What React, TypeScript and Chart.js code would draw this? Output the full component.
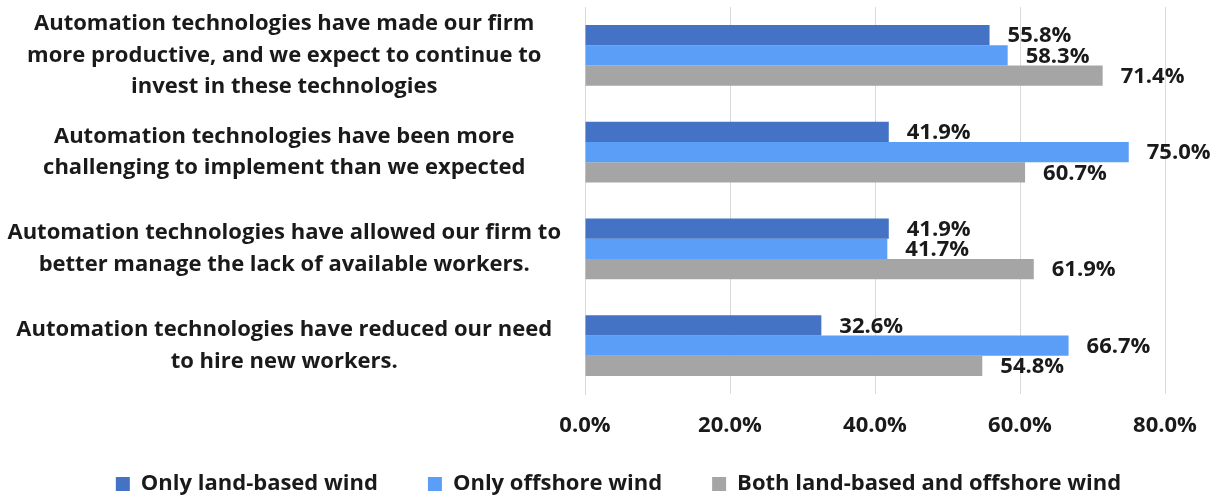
import React, { useEffect, useRef } from 'react';
import { Chart, registerables } from 'chart.js';

Chart.register(...registerables);

const categories: string[][] = [
  ['Automation technologies have made our firm', 'more productive, and we expect to continue to', 'invest in these technologies'],
  ['Automation technologies have been more', 'challenging to implement than we expected'],
  ['Automation technologies have allowed our firm to', 'better manage the lack of available workers.'],
  ['Automation technologies have reduced our need', 'to hire new workers.'],
];
const seriesNames = ['Only land-based wind', 'Only offshore wind', 'Both land-based and offshore wind'];
const landBased = [55.8, 41.9, 41.9, 32.6];
const offshore = [58.3, 75.0, 41.7, 66.7];
const both = [71.4, 60.7, 61.9, 54.8];
const xMin = 0;
const xMax = 80;
const xStep = 20;

const FONT = '"Open Sans"';
const TEXT = '#1a1a1a';
const LEGEND_GAP = '       ';

const valueLabels = {
  id: 'valueLabels',
  afterDatasetsDraw(chart: any) {
    const ctx = chart.ctx;
    ctx.save();
    ctx.font = `bold 22px ${FONT}`;
    ctx.fillStyle = TEXT;
    ctx.textAlign = 'left';
    ctx.textBaseline = 'middle';
    chart.data.datasets.forEach((ds: any, di: number) => {
      const meta = chart.getDatasetMeta(di);
      meta.data.forEach((el: any, i: number) => {
        const v = ds.data[i] as number;
        ctx.fillText(v.toFixed(1) + '%', el.x + 18, el.y + 1);
      });
    });
    ctx.restore();
  },
};

const legendShift = {
  id: 'legendShift',
  afterLayout(chart: any) {
    const lg = chart.legend;
    if (lg) {
      lg.left += 36;
      lg.right += 36;
    }
  },
};

export default function App() {
  const ref = useRef<HTMLCanvasElement | null>(null);
  useEffect(() => {
    if (!ref.current) return;
    const chart = new Chart(ref.current, {
      type: 'bar',
      data: {
        labels: categories,
        datasets: [
          { label: seriesNames[0], data: landBased, backgroundColor: '#4472C4' },
          { label: seriesNames[1], data: offshore, backgroundColor: '#5B9EF7' },
          { label: seriesNames[2], data: both, backgroundColor: '#A5A5A5' },
        ],
      },
      options: {
        indexAxis: 'y',
        animation: false,
        responsive: true,
        maintainAspectRatio: false,
        datasets: { bar: { categoryPercentage: 0.63, barPercentage: 1.0 } },
        layout: { padding: { top: 7, right: 56, left: 0, bottom: -7 } },
        scales: {
          x: {
            min: xMin,
            max: xMax,
            ticks: {
              stepSize: xStep,
              padding: 19,
              color: TEXT,
              font: { family: FONT, size: 22, weight: 'bold' },
              callback: (v: any) => Number(v).toFixed(1) + '%',
            },
            grid: { color: '#d9d9d9', drawTicks: false, lineWidth: 1 },
            border: { display: false },
            afterFit: (s: any) => {
              s.height = 69;
            },
          },
          y: {
            ticks: {
              padding: 16,
              autoSkip: false,
              crossAlign: 'center',
              color: TEXT,
              font: { family: FONT, size: 22, weight: 'bold', lineHeight: 1.43 },
            },
            grid: { display: false },
            border: { display: true, color: '#d9d9d9' },
            afterFit: (s: any) => {
              s.width = 585;
              s.paddingTop = 0;
              s.paddingBottom = 0;
            },
          },
        },
        plugins: {
          legend: {
            position: 'bottom',
            labels: {
              boxWidth: 14,
              boxHeight: 14,
              padding: 10,
              color: TEXT,
              font: { family: FONT, size: 22, weight: 'bold' },
              generateLabels: (c: any) => {
                const items = Chart.defaults.plugins.legend.labels.generateLabels(c);
                return items.map((it: any, i: number) => ({
                  ...it,
                  text: i < items.length - 1 ? it.text + LEGEND_GAP : it.text,
                  lineWidth: 0,
                }));
              },
            },
          },
          tooltip: { enabled: false },
        },
      },
      plugins: [valueLabels, legendShift],
    } as any);
    return () => chart.destroy();
  }, []);
  return (
    <div style={{ position: 'fixed', left: 0, top: 0, width: 1221, height: 498, background: '#fff' }}>
      <canvas ref={ref} />
    </div>
  );
}
